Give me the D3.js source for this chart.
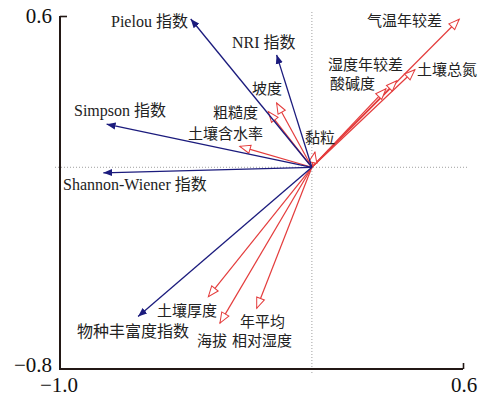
<!DOCTYPE html>
<html><head><meta charset="utf-8">
<script src="https://cdn.jsdelivr.net/npm/d3@7"></script>
<style>body{margin:0;background:#fff}</style>
</head><body>
<svg id="c" width="486" height="399"></svg>
<script>
// ---- data ----
const speciesNames = ["Pielou 指数","NRI 指数","Simpson 指数","Shannon-Wiener 指数","物种丰富度指数"];
const speciesX = [-0.481,-0.140,-0.815,-0.828,-0.690];
const speciesY = [0.588,0.446,0.171,-0.022,-0.592];
const envNames = ["气温年较差","土壤总氮","湿度年较差","酸碱度","坡度","粗糙度","土壤含水率","黏粒","土壤厚度","海拔","年平均相对湿度"];
const envX = [0.585,0.409,0.337,0.294,-0.140,-0.173,-0.286,0.012,-0.411,-0.365,-0.219];
const envY = [0.587,0.387,0.343,0.311,0.255,0.221,0.083,0.060,-0.513,-0.618,-0.559];
const xTicks = [-1.0, 0.6];
const yTicks = [-0.8, 0.6];

// ---- layout (label placement in px) ----
const speciesLabelPos = [[111,27],[232,48],[74,116],[63,190],[77,337]];
const envLabelPos = [[367,26],[417,75],[328,70],[330,89],[252,94],[213,118],[188,139],[305,143],[157,316],[197,346],[[240,327],[232,346]]];

const svg = d3.select("#c");
const x = d3.scaleLinear().domain([-1.0,0.6]).range([60,463]);
const y = d3.scaleLinear().domain([-0.8,0.6]).range([369,16]);
const blue = "#1b1b7d", red = "#e43c3c", axisCol = "#231815";
const font = "'Liberation Serif','Times New Roman','Noto Sans CJK SC',serif";

const defs = svg.append("defs");
defs.append("marker").attr("id","hb").attr("markerUnits","userSpaceOnUse")
  .attr("viewBox","0 0 10 10").attr("refX",10).attr("refY",5)
  .attr("markerWidth",9).attr("markerHeight",9).attr("orient","auto")
  .append("path").attr("d","M0,1 L10,5 L0,9 Z").attr("fill",blue);
defs.append("marker").attr("id","hr").attr("markerUnits","userSpaceOnUse")
  .attr("viewBox","-1 -1 14 12").attr("refX",11.5).attr("refY",5)
  .attr("markerWidth",13).attr("markerHeight",11).attr("orient","auto")
  .append("path").attr("d","M0,0.5 L11.5,5 L0,9.5 Z").attr("fill","#fff").attr("stroke",red).attr("stroke-width",1.1);

// reference dotted lines
svg.append("line").attr("x1",x(0)).attr("x2",x(0)).attr("y1",12).attr("y2",373)
  .attr("stroke","#888").attr("stroke-width",0.8).attr("stroke-dasharray","1,2");
svg.append("line").attr("x1",55).attr("x2",469).attr("y1",y(0)).attr("y2",y(0))
  .attr("stroke","#888").attr("stroke-width",0.8).attr("stroke-dasharray","1,2");

// axes
const xAxis = d3.axisBottom(x).tickValues(xTicks).tickSize(-6).tickFormat(()=> "");
const gx = svg.append("g").attr("transform",`translate(0,${y(-0.8)})`).call(xAxis);
gx.selectAll(".tick").filter(d=>d===-1.0).select("line").remove();
const yAxis = d3.axisLeft(y).tickValues(yTicks).tickSize(-7).tickFormat(()=> "");
const gy = svg.append("g").attr("transform",`translate(${x(-1.0)},0)`).call(yAxis);
gy.selectAll(".tick").filter(d=>d===-0.8).select("line").remove();
[gx,gy].forEach(g=>{
  g.select(".domain").attr("stroke",axisCol).attr("stroke-width",2);
  g.selectAll(".tick line").attr("stroke",axisCol).attr("stroke-width",1.6);
});
gx.select(".domain").attr("d",`M${x(-1.0)-1},0H${x(0.6)}`);
gy.select(".domain").attr("d",`M0,${y(0.6)}V${y(-0.8)+1}`);
const fmt = v => (v<0?"\u2212":"") + Math.abs(v).toFixed(1);
svg.append("g").selectAll("text").data(xTicks).join("text")
  .attr("x",d=>x(d) + (d<0? -1 : 1)).attr("y",392).attr("text-anchor","middle")
  .attr("font-family",font).attr("font-size",21).attr("fill","#111").text(fmt);
svg.append("g").selectAll("text").data(yTicks).join("text")
  .attr("x",52).attr("y",d=>y(d)+ (d>0? 7 : 3)).attr("text-anchor","end")
  .attr("font-family",font).attr("font-size",21).attr("fill","#111").text(fmt);

// arrows
const env = envNames.map((n,i)=>({n,x:envX[i],y:envY[i],p:envLabelPos[i],fs:15}));
const sp = speciesNames.map((n,i)=>({n,x:speciesX[i],y:speciesY[i],p:speciesLabelPos[i],fs:16}));
svg.append("g").selectAll("line").data(env).join("line")
  .attr("x1",x(0)).attr("y1",y(0)).attr("x2",d=>x(d.x)).attr("y2",d=>y(d.y))
  .attr("stroke",red).attr("stroke-width",1.2).attr("marker-end","url(#hr)");
svg.append("g").selectAll("line").data(sp).join("line")
  .attr("x1",x(0)).attr("y1",y(0)).attr("x2",d=>x(d.x)).attr("y2",d=>y(d.y))
  .attr("stroke",blue).attr("stroke-width",1.3).attr("marker-end","url(#hb)");

// labels
function addLabel(d){
  if (Array.isArray(d.p[0])) {
    const parts = [d.n.slice(0,3), d.n.slice(3)];
    parts.forEach((t,k)=> svg.append("text").attr("x",d.p[k][0]).attr("y",d.p[k][1])
      .attr("font-family",font).attr("font-size",d.fs).attr("fill","#222").text(t));
  } else {
    svg.append("text").attr("x",d.p[0]).attr("y",d.p[1])
      .attr("font-family",font).attr("font-size",d.fs).attr("fill","#222").text(d.n);
  }
}
env.forEach(addLabel); sp.forEach(addLabel);
</script>
</body></html>
